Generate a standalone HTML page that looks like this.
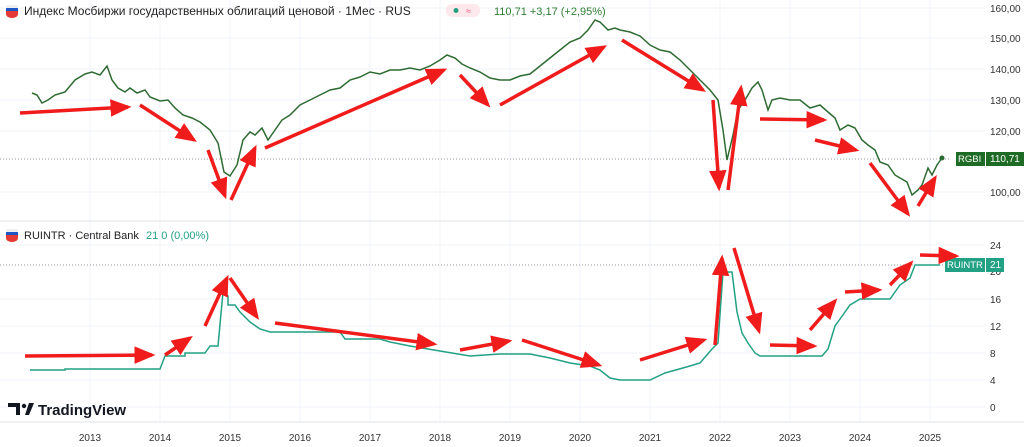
<!DOCTYPE html>
<html><head><meta charset="utf-8"><style>
body{margin:0;background:#fff;}
svg{display:block;font-family:"Liberation Sans","Noto Sans CJK SC",sans-serif;}
</style></head><body>
<svg width="1024" height="447" viewBox="0 0 1024 447">
<defs>
<marker id="ah" markerWidth="6" markerHeight="5" refX="5" refY="2.5" orient="auto" markerUnits="strokeWidth">
<path d="M0,0 L6,2.5 L0,5 Z" fill="#f01c1c"/>
</marker>
</defs>
<rect width="1024" height="447" fill="#fff"/>
<g stroke="#f0f3fa" stroke-width="1">
<line x1="0" y1="8" x2="985" y2="8"/><line x1="0" y1="38" x2="985" y2="38"/><line x1="0" y1="69" x2="985" y2="69"/><line x1="0" y1="100" x2="985" y2="100"/><line x1="0" y1="131" x2="985" y2="131"/><line x1="0" y1="192" x2="985" y2="192"/>
<line x1="0" y1="245" x2="985" y2="245"/><line x1="0" y1="299" x2="985" y2="299"/><line x1="0" y1="326" x2="985" y2="326"/><line x1="0" y1="353" x2="985" y2="353"/><line x1="0" y1="380" x2="985" y2="380"/><line x1="0" y1="407" x2="985" y2="407"/>
<line x1="90" y1="0" x2="90" y2="422"/><line x1="160" y1="0" x2="160" y2="422"/><line x1="230" y1="0" x2="230" y2="422"/><line x1="300" y1="0" x2="300" y2="422"/><line x1="370" y1="0" x2="370" y2="422"/><line x1="440" y1="0" x2="440" y2="422"/><line x1="510" y1="0" x2="510" y2="422"/><line x1="580" y1="0" x2="580" y2="422"/><line x1="650" y1="0" x2="650" y2="422"/><line x1="720" y1="0" x2="720" y2="422"/><line x1="790" y1="0" x2="790" y2="422"/><line x1="860" y1="0" x2="860" y2="422"/><line x1="930" y1="0" x2="930" y2="422"/>
</g>
<line x1="0" y1="221" x2="1024" y2="221" stroke="#e0e3eb"/>
<line x1="0" y1="422" x2="1024" y2="422" stroke="#e0e3eb"/>
<line x1="0" y1="159" x2="950" y2="159" stroke="#999" stroke-dasharray="1,2"/>
<line x1="0" y1="265" x2="945" y2="265" stroke="#999" stroke-dasharray="1,2"/>
<g font-size="10" fill="#333">
<text x="990" y="12">160,00</text><text x="990" y="42">150,00</text><text x="990" y="73">140,00</text><text x="990" y="104">130,00</text><text x="990" y="135">120,00</text><text x="990" y="196">100,00</text>
<text x="990" y="249">24</text><text x="990" y="275">20</text><text x="990" y="303">16</text><text x="990" y="330">12</text><text x="990" y="357">8</text><text x="990" y="384">4</text><text x="990" y="411">0</text>
</g>
<g font-size="10" fill="#333" text-anchor="middle">
<text x="90" y="441">2013</text><text x="160" y="441">2014</text><text x="230" y="441">2015</text><text x="300" y="441">2016</text><text x="370" y="441">2017</text><text x="440" y="441">2018</text><text x="510" y="441">2019</text><text x="580" y="441">2020</text><text x="650" y="441">2021</text><text x="720" y="441">2022</text><text x="790" y="441">2023</text><text x="860" y="441">2024</text><text x="930" y="441">2025</text>
</g>
<rect x="956" y="152" width="29" height="14" fill="#1e6b25"/><text x="958" y="162" font-size="9.5" fill="#fff">RGBI</text>
<rect x="986" y="152" width="38" height="14" fill="#1e6b25"/><text x="990" y="162" font-size="10" fill="#fff">110,71</text>
<rect x="945" y="258" width="40" height="14" fill="#22a184"/><text x="947" y="268" font-size="9.5" fill="#fff">RUINTR</text>
<rect x="986" y="258" width="18" height="14" fill="#22a184"/><text x="990" y="268" font-size="10" fill="#fff">21</text>
<polyline fill="none" stroke="#2e6b32" stroke-width="1.5" points="32,93 37,95 42,103 48,100 55,95 65,92 75,80 85,74 92,72 100,75 107,66 112,80 118,88 125,92 130,88 137,93 145,90 150,97 160,101 168,100 175,108 183,115 192,118 200,122 210,130 218,143 224,172 230,176 237,165 243,140 250,132 255,135 262,128 268,140 275,130 282,120 290,115 300,105 310,100 320,95 330,90 340,88 350,80 360,77 370,72 380,74 390,70 400,70 410,68 420,70 430,66 440,60 447,55 455,58 462,64 470,68 480,72 490,78 500,80 510,80 520,76 530,74 540,66 550,58 560,50 570,42 580,38 588,30 595,20 600,22 608,30 615,28 620,30 630,32 640,36 650,45 660,50 670,52 680,60 690,70 700,80 710,90 718,100 723,130 727,160 733,135 738,110 745,100 752,88 758,82 762,90 768,110 772,100 780,98 790,100 800,100 810,108 820,105 828,112 835,118 840,130 848,125 855,128 862,140 868,145 875,150 880,162 888,165 895,175 900,178 907,182 912,195 918,190 922,185 928,168 932,175 937,165 942,158"/>
<circle cx="942" cy="158" r="2.5" fill="#2e6b32"/>
<polyline fill="none" stroke="#22a184" stroke-width="1.5" points="30,370 65,370 65,369 160,369 165,356 185,356 185,353 205,353 210,346 218,346 223,292 228,296 228,305 235,305 240,312 250,322 260,329 270,332 340,332 345,339 380,339 390,342 410,346 440,351 470,356 500,354 530,354 550,358 570,363 590,366 600,370 610,378 620,380 650,380 665,373 690,366 700,363 712,349 718,343 723,272 732,272 737,312 742,333 748,343 755,353 760,356 822,356 828,349 835,326 840,319 850,305 860,299 890,299 900,285 910,278 915,265 940,265"/>
<g stroke="#f01c1c" stroke-width="3.5" marker-end="url(#ah)" fill="none">
<line x1="20" y1="113" x2="128" y2="107"/>
<line x1="140" y1="105" x2="194" y2="140"/>
<line x1="208" y1="150" x2="225" y2="196"/>
<line x1="231" y1="200" x2="255" y2="148"/>
<line x1="265" y1="148" x2="444" y2="70"/>
<line x1="460" y1="75" x2="488" y2="105"/>
<line x1="500" y1="105" x2="604" y2="47"/>
<line x1="622" y1="40" x2="703" y2="90"/>
<line x1="713" y1="100" x2="719" y2="188"/>
<line x1="728" y1="190" x2="741" y2="88"/>
<line x1="760" y1="119" x2="824" y2="120"/>
<line x1="815" y1="140" x2="856" y2="150"/>
<line x1="870" y1="163" x2="908" y2="214"/>
<line x1="918" y1="206" x2="935" y2="178"/>
<line x1="25" y1="356" x2="152" y2="355"/>
<line x1="165" y1="355" x2="190" y2="338"/>
<line x1="205" y1="326" x2="227" y2="278"/>
<line x1="230" y1="278" x2="257" y2="317"/>
<line x1="275" y1="323" x2="434" y2="344"/>
<line x1="460" y1="350" x2="509" y2="341"/>
<line x1="522" y1="340" x2="599" y2="365"/>
<line x1="640" y1="360" x2="704" y2="340"/>
<line x1="715" y1="345" x2="722" y2="258"/>
<line x1="734" y1="248" x2="759" y2="331"/>
<line x1="770" y1="345" x2="814" y2="346"/>
<line x1="810" y1="330" x2="835" y2="301"/>
<line x1="845" y1="292" x2="879" y2="290"/>
<line x1="890" y1="285" x2="911" y2="263"/>
<line x1="920" y1="255" x2="956" y2="256"/>
</g>
<path d="M6,5 h12 v9 a6,4 0 0 1 -12,0 z" fill="#e53935"/><path d="M6,5 h12 v3 h-12 z" fill="#f0f0f0"/><path d="M6,8 h12 v3 h-12 z" fill="#1e56c8"/>
<text x="24" y="15" font-size="12" fill="#222">Индекс Мосбиржи государственных облигаций ценовой · 1Мес · RUS</text>
<rect x="446" y="4" width="34" height="13" rx="6" fill="#fde8ec"/><circle cx="456" cy="10.5" r="2.5" fill="#22a184"/><text x="466" y="14" font-size="9" fill="#e57">≈</text>
<text x="494" y="15" font-size="11" fill="#2e7d32">110,71  +3,17 (+2,95%)</text>
<path d="M6,229 h12 v9 a6,4 0 0 1 -12,0 z" fill="#e53935"/><path d="M6,229 h12 v3 h-12 z" fill="#f0f0f0"/><path d="M6,232 h12 v3 h-12 z" fill="#1e56c8"/>
<text x="24" y="239" font-size="11" fill="#222">RUINTR · Central Bank</text>
<text x="146" y="239" font-size="11" fill="#22a184">21  0 (0,00%)</text>
<path d="M8,403 h12 v12 h-4 v-8 h-8 z" fill="#131722"/><circle cx="24" cy="406" r="2.2" fill="#131722"/><path d="M25,415 l4,-12 h5 l-5,12 z" fill="#131722"/>
<text x="38" y="415" font-size="15" font-weight="bold" fill="#131722">TradingView</text>
</svg>
</body></html>
